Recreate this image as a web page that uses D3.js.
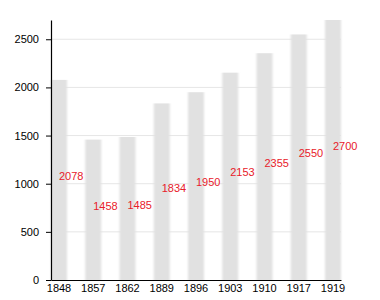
<!DOCTYPE html>
<html>
<head>
<meta charset="utf-8">
<script src="https://cdn.jsdelivr.net/npm/d3@7"></script>
<style>
  body { margin: 0; background: #fff; }
  text { font-family: "Liberation Sans", Arial, sans-serif; }
</style>
</head>
<body>
<svg id="chart" width="380" height="300"></svg>
<script>
const years = ["1848", "1857", "1862", "1889", "1896", "1903", "1910", "1917", "1919"];
const population = [2078, 1458, 1485, 1834, 1950, 2153, 2355, 2550, 2700];
const yTicks = [0, 500, 1000, 1500, 2000, 2500];

const svg = d3.select("#chart");
const margin = { left: 51, right: 39, top: 20, bottom: 20 };
const width = 380 - margin.left - margin.right,
  height = 300 - margin.top - margin.bottom;

const x = d3.scaleBand().domain(years).range([0, width]).paddingInner(0.533).paddingOuter(0);
const y = d3.scaleLinear().domain([0, 2700]).range([height, 0]);

// flou léger sur les barres
svg.append("defs")
  .append("filter")
  .attr("id", "blur")
  .attr("x", "-20%").attr("width", "140%")
  .append("feGaussianBlur")
  .attr("stdDeviation", "1.2 0.6");

const g = svg.append("g").attr("transform", `translate(${margin.left},${margin.top})`);

// lignes de grille
g.selectAll(".grid")
  .data(yTicks.slice(1))
  .enter()
  .append("line")
  .attr("x1", 0)
  .attr("x2", width)
  .attr("y1", (d) => y(d))
  .attr("y2", (d) => y(d))
  .attr("stroke", "#e6e6e6")
  .attr("stroke-width", 1);

// barres
g.selectAll(".bar")
  .data(population)
  .enter()
  .append("rect")
  .attr("x", (d, i) => x(years[i]))
  .attr("y", (d) => y(d))
  .attr("width", x.bandwidth())
  .attr("height", (d) => height - y(d))
  .attr("fill", "#e1e1e1")
  .attr("filter", "url(#blur)");

// étiquettes en rouge
g.selectAll(".label")
  .data(population)
  .enter()
  .append("text")
  .attr("x", (d, i) => x(years[i]) + x.bandwidth() / 2)
  .attr("y", (d) => y(d / 2))
  .attr("fill", "#e8202a")
  .attr("font-size", 11)
  .text((d) => d);

// axes
const yAxis = g.append("g")
  .call(d3.axisLeft(y).tickValues(yTicks).tickFormat(d3.format("d")).tickSize(5).tickPadding(7).tickSizeOuter(0));
yAxis.selectAll("text").attr("font-size", 11).attr("fill", "#000");

const xAxis = g.append("g")
  .attr("transform", `translate(0,${height})`)
  .call(d3.axisBottom(x).tickSize(0).tickPadding(4));
xAxis.selectAll("text").attr("font-size", 11).attr("fill", "#000");

svg.selectAll(".domain").attr("stroke", "#000").attr("stroke-width", 1.2);
svg.selectAll(".tick line").attr("stroke", "#000");
svg.selectAll(".tick text").attr("font-family", "Liberation Sans, Arial, sans-serif");
</script>
</body>
</html>
